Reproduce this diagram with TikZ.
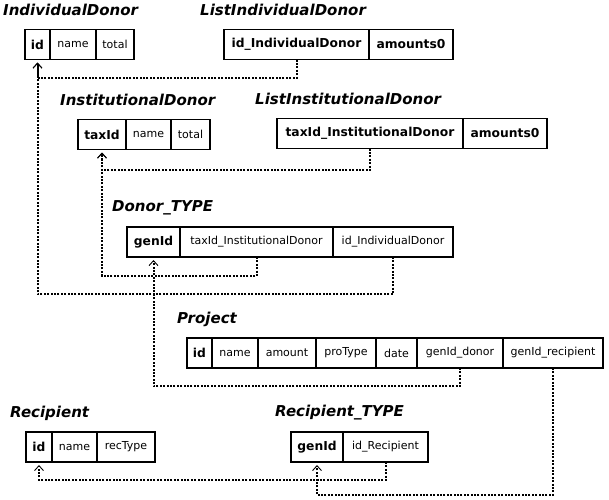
\documentclass[tikz,border=0pt]{standalone}
\usepackage{fontspec}
\setmainfont{DejaVu Sans}
\usetikzlibrary{arrows.meta,positioning}

\tikzset{
  cell/.style={draw, line width=1.5pt, minimum height=30pt, inner sep=0pt, outer sep=0pt,
    font=\fontsize{11}{12}\selectfont},
  keycell/.style={cell, font=\fontsize{12.3}{13}\selectfont\bfseries},
  tabname/.style={anchor=west, inner sep=0pt, font=\fontsize{15}{17}\selectfont\bfseries\itshape},
  fkline/.style={line width=2pt, dash pattern=on 2pt off 1.4pt},
  fkref/.style={fkline, -{Straight Barb[length=5pt,width=9pt,line width=0.9pt]}, shorten >=3pt},
}

\begin{document}
\begin{tikzpicture}[x=1pt,y=1pt]
            \useasboundingbox (0,0) rectangle (609,-499);

            % IndividualDonor
            \node[tabname] (tIndDonor) at (3,-10) {IndividualDonor};
            \node[keycell, minimum width=25pt, anchor=west] (indId) at (25,-44.5) {id};
            \node[cell, minimum width=46pt, right=0pt of indId] (indName) {name};
            \node[cell, minimum width=38pt, right=0pt of indName] (indTotal) {total};

            % ListIndividualDonor
            \node[tabname] (tListInd) at (200,-10) {ListIndividualDonor};
            \node[keycell, minimum width=145pt, anchor=west] (lindId) at (224,-44.5) {id\_IndividualDonor};
            \node[keycell, minimum width=84pt, right=0pt of lindId] (lindAmt) {amounts0};

            % InstitutionalDonor
            \node[tabname] (tInstDonor) at (60,-100) {InstitutionalDonor};
            \node[keycell, minimum width=48pt, anchor=west] (instId) at (78,-134.5) {taxId};
            \node[cell, minimum width=45pt, right=0pt of instId] (instName) {name};
            \node[cell, minimum width=39pt, right=0pt of instName] (instTotal) {total};

            % ListInstitutionalDonor
            \node[tabname] (tListInst) at (255,-99) {ListInstitutionalDonor};
            \node[keycell, minimum width=186pt, anchor=west] (linstId) at (277,-133.5) {taxId\_InstitutionalDonor};
            \node[keycell, minimum width=84pt, right=0pt of linstId] (linstAmt) {amounts0};

            % Donor_TYPE
            \node[tabname] (tDonorType) at (112,-208) {Donor\_TYPE};
            \node[keycell, minimum width=53pt, anchor=west] (dtGen) at (127,-242) {genId};
            \node[cell, minimum width=153pt, right=0pt of dtGen] (dtTax) {taxId\_InstitutionalDonor};
            \node[cell, minimum width=120pt, right=0pt of dtTax] (dtInd) {id\_IndividualDonor};

            % Project
            \node[tabname] (tProject) at (177,-319) {Project};
            \node[keycell, minimum width=25pt, anchor=west] (prId) at (187,-353) {id};
            \node[cell, minimum width=46pt, right=0pt of prId] (prName) {name};
            \node[cell, minimum width=58pt, right=0pt of prName] (prAmount) {amount};
            \node[cell, minimum width=60pt, right=0pt of prAmount] (prType) {proType};
            \node[cell, minimum width=41pt, right=0pt of prType] (prDate) {date};
            \node[cell, minimum width=86pt, right=0pt of prDate] (prDonor) {genId\_donor};
            \node[cell, minimum width=100pt, right=0pt of prDonor] (prRecip) {genId\_recipient};

            % Recipient
            \node[tabname] (tRecipient) at (10,-413) {Recipient};
            \node[keycell, minimum width=26pt, anchor=west] (recId) at (26,-447) {id};
            \node[cell, minimum width=45pt, right=0pt of recId] (recName) {name};
            \node[cell, minimum width=58pt, right=0pt of recName] (recType) {recType};

            % Recipient_TYPE
            \node[tabname] (tRecipType) at (275,-413) {Recipient\_TYPE};
            \node[keycell, minimum width=52pt, anchor=west] (rtGen) at (291,-447) {genId};
            \node[cell, minimum width=85pt, right=0pt of rtGen] (rtRec) {id\_Recipient};

            % levels of the foreign key lines
            \coordinate (yInd) at (0,-78);
            \coordinate (yInst) at (0,-170);
            \coordinate (yDtTax) at (0,-276);
            \coordinate (yDtInd) at (0,-294);
            \coordinate (yPrDonor) at (0,-386);
            \coordinate (yRtRec) at (0,-480);
            \coordinate (yPrRecip) at (0,-495);

            \draw[fkref] (lindId.south) -- (lindId.south |- yInd) -| (indId.south);
            \draw[fkref] (linstId.south) -- (linstId.south |- yInst) -| (instId.south);
            \draw[fkref] (dtTax.south) -- (dtTax.south |- yDtTax) -| (instId.south);
            \draw[fkref] (dtInd.south) -- (dtInd.south |- yDtInd) -| (indId.south);
            \draw[fkref] (prDonor.south) -- (prDonor.south |- yPrDonor) -| (dtGen.south);
            \draw[fkref] (rtRec.south) -- (rtRec.south |- yRtRec) -| (recId.south);
            \draw[fkref] (prRecip.south) -- (prRecip.south |- yPrRecip) -| (rtGen.south);
        \end{tikzpicture}
\end{document}
